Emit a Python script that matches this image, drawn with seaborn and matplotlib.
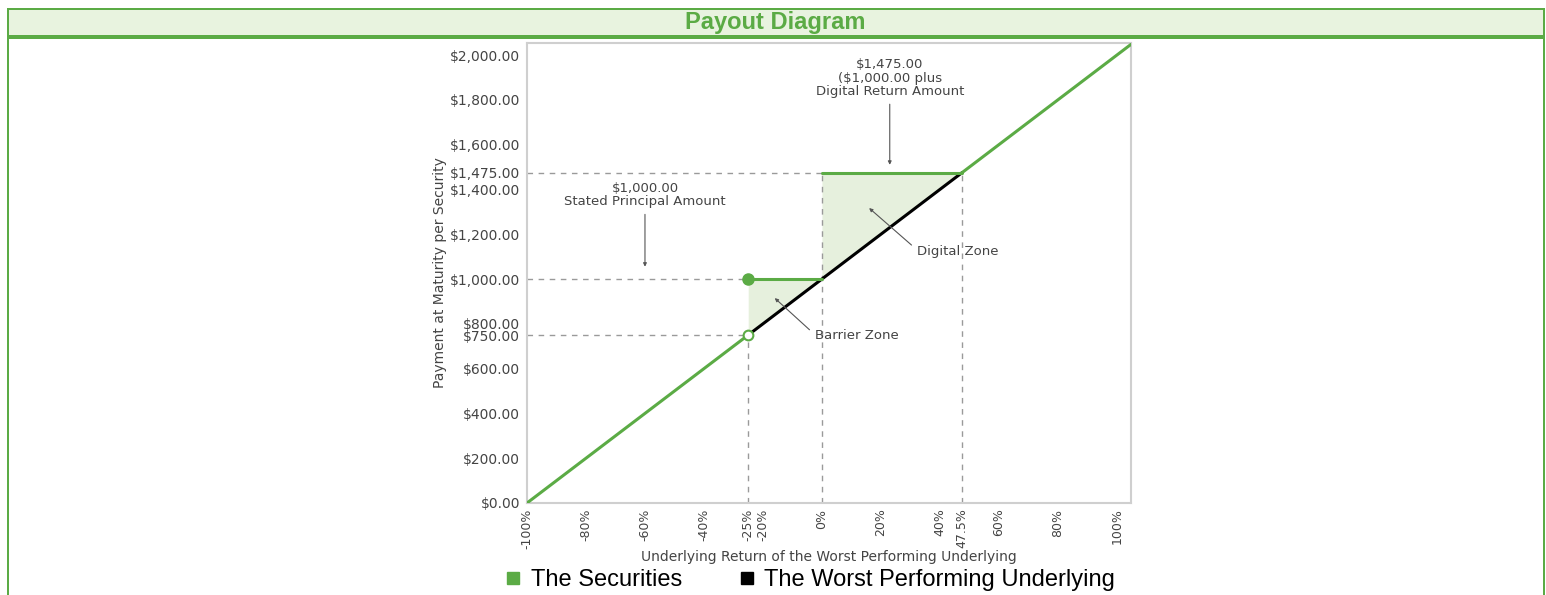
import matplotlib
matplotlib.use("Agg")
import matplotlib.pyplot as plt
from matplotlib.patches import Rectangle
from matplotlib.lines import Line2D
import seaborn as sns

# payout data (underlying return in %, payment in $)
sec_down_x = [-100, -25]
sec_down_y = [0, 750]
sec_barrier_x = [-25, 0]
sec_barrier_y = [1000, 1000]
sec_digital_x = [0, 47.5]
sec_digital_y = [1475, 1475]
sec_up_x = [47.5, 104.8]
sec_up_y = [1475, 2048]
under_x = [-25, 47.5]
under_y = [750, 1475]

x_ticks = [-100, -80, -60, -40, -25, -20, 0, 20, 40, 47.5, 60, 80, 100]
x_labels = ["-100%", "-80%", "-60%", "-40%", "-25%", "-20%", "0%", "20%", "40%",
            "47.5%", "60%", "80%", "100%"]
y_ticks = [0, 200, 400, 600, 750, 800, 1000, 1200, 1400, 1475, 1600, 1800, 2000]
y_labels = ["$0.00", "$200.00", "$400.00", "$600.00", "$750.00", "$800.00", "$1,000.00",
            "$1,200.00", "$1,400.00", "$1,475.00", "$1,600.00", "$1,800.00", "$2,000.00"]

GREEN = "#5bab45"
FILL = "#e6f0dd"
GRAY = "#444444"
DASH = "#9a9a9a"

sns.set_theme(style="white")
plt.rcParams["font.family"] = ["DejaVu Sans"]

fig = plt.figure(figsize=(15.46, 5.95), dpi=100)

# header band and border
fig.patches.append(Rectangle((8 / 1546, 1 - 36 / 595), 1536 / 1546, 26 / 595,
                             transform=fig.transFigure, facecolor="#e8f3df", edgecolor="none"))
for y0, h in [(8, 2), (35, 4)]:
    fig.patches.append(Rectangle((7 / 1546, 1 - (y0 + h) / 595), 1538 / 1546, h / 595,
                                 transform=fig.transFigure, facecolor=GREEN, edgecolor="none"))
for x0 in [7, 1543]:
    fig.patches.append(Rectangle((x0 / 1546, 0), 2 / 1546, 1 - 8 / 595,
                                 transform=fig.transFigure, facecolor=GREEN, edgecolor="none"))
fig.text(775 / 1546, 1 - 22 / 595, "Payout Diagram", ha="center", va="center",
         fontsize=17, fontweight="bold", color=GREEN, family=["Liberation Sans", "DejaVu Sans"])

ax = fig.add_axes([527 / 1546, 1 - 503 / 595, 604 / 1546, 460 / 595])

# shaded zones
ax.fill_between(sec_barrier_x, [under_y[0], 1000], sec_barrier_y, color=FILL, lw=0, zorder=1)
ax.fill_between(sec_digital_x, [1000, under_y[1]], sec_digital_y, color=FILL, lw=0, zorder=1)

# reference dashed lines
dkw = dict(color=DASH, lw=1, ls=(0, (4, 4)), zorder=2)
ax.plot([-100, 0], [1475, 1475], **dkw)
ax.plot([-100, -25], [1000, 1000], **dkw)
ax.plot([-100, -25], [750, 750], **dkw)
ax.plot([-25, -25], [0, 750], **dkw)
ax.plot([0, 0], [0, 1475], **dkw)
ax.plot([47.5, 47.5], [0, 1475], **dkw)

# payout lines
for xs, ys in [(sec_down_x, sec_down_y), (sec_barrier_x, sec_barrier_y),
               (sec_digital_x, sec_digital_y), (sec_up_x, sec_up_y)]:
    sns.lineplot(x=xs, y=ys, color=GREEN, lw=2.2, ax=ax, zorder=4)
sns.lineplot(x=under_x, y=under_y, color="black", lw=2.2, ax=ax, zorder=3)

ax.plot([-25], [1000], "o", color=GREEN, ms=8, zorder=5)
ax.plot([-25], [750], "o", mfc="white", mec=GREEN, mew=1.5, ms=7, zorder=5)

# annotations
akw = dict(arrowstyle="-|>", color="#555555", lw=0.8, mutation_scale=5, shrinkA=2, shrinkB=0)
ax.annotate("$1,000.00\nStated Principal Amount", xy=(-60, 1055), xytext=(-60, 1375),
            ha="center", va="center", fontsize=9.5, color=GRAY, linespacing=1.05,
            arrowprops=akw)
ax.annotate("$1,475.00\n($1,000.00 plus\nDigital Return Amount", xy=(23, 1510), xytext=(23, 1897),
            ha="center", va="center", fontsize=9.5, color=GRAY, linespacing=1.05,
            arrowprops=akw)
ax.annotate("Digital Zone", xy=(16, 1317), xytext=(32.2, 1125),
            ha="left", va="center", fontsize=9.5, color=GRAY,
            arrowprops=dict(akw, relpos=(0, 0.6)))
ax.annotate("Barrier Zone", xy=(-16, 915), xytext=(-2.4, 746),
            ha="left", va="center", fontsize=9.5, color=GRAY,
            arrowprops=dict(akw, relpos=(0, 0.6)))

ax.set_xlim(-100, 104.8)
ax.set_ylim(0, 2054)
ax.set_xticks(x_ticks)
ax.set_xticklabels(x_labels, rotation=90)
ax.set_yticks(y_ticks)
ax.set_yticklabels(y_labels)
ax.tick_params(axis="both", length=3, width=0.8, color="#bbbbbb", pad=2,
               labelsize=10, labelcolor=GRAY)
ax.tick_params(axis="x", labelsize=9, pad=1)
for s in ax.spines.values():
    s.set_color("#cfcfcf")
    s.set_linewidth(1.5)
ax.set_xlabel("Underlying Return of the Worst Performing Underlying", fontsize=10,
              color=GRAY, labelpad=1)
ax.set_ylabel("Payment at Maturity per Security", fontsize=10, color=GRAY, labelpad=2)

handles = [Line2D([], [], ls="none", marker="s", ms=9, color=GREEN),
           Line2D([], [], ls="none", marker="s", ms=9, color="black")]
fig.legend(handles, ["The Securities", "The Worst Performing Underlying"],
           loc="center", bbox_to_anchor=(810 / 1546, 1 - 580 / 595), ncol=2, frameon=False,
           handlelength=0.7, handletextpad=0.4, columnspacing=2.4, borderpad=0,
           labelcolor="black",
           prop={"family": ["Liberation Sans", "DejaVu Sans"], "size": 17})

fig.savefig("out.png", dpi=100)
